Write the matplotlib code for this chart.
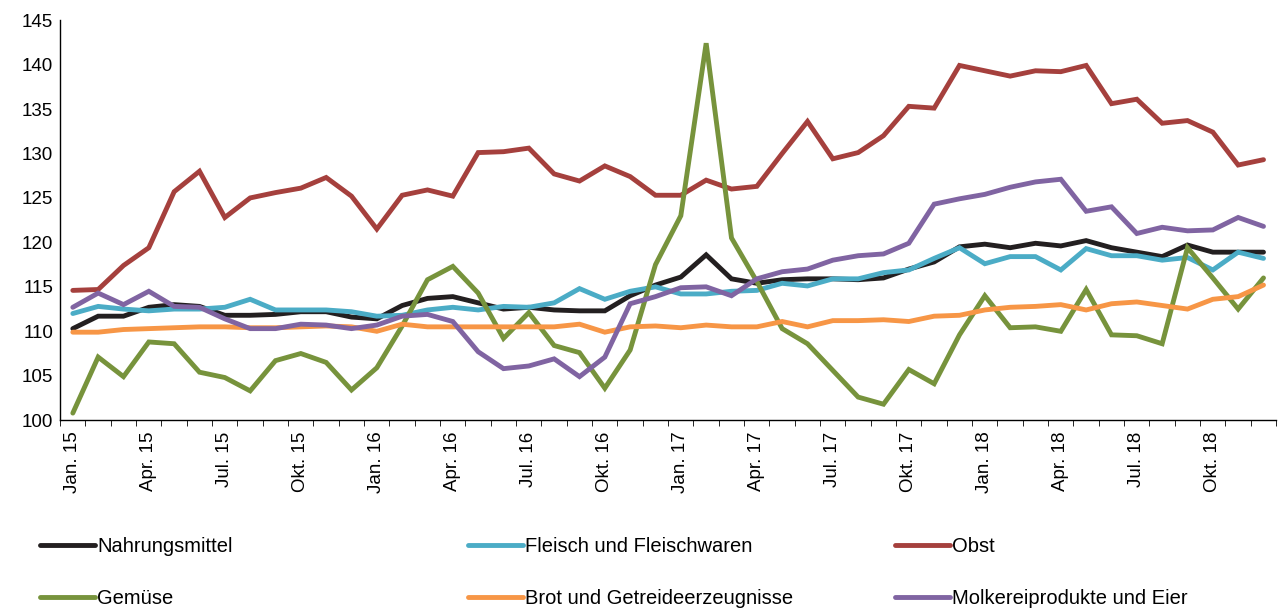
import numpy as np
import matplotlib
matplotlib.use("Agg")
import matplotlib.pyplot as plt

plt.rcParams['font.family'] = ['Liberation Sans', 'DejaVu Sans']

# Monate Jan. 15 bis Dez. 18
monate = [f"{m} {j}" for j in ["15", "16", "17", "18"]
          for m in ["Jan.", "Feb.", "Mär.", "Apr.", "Mai", "Jun.", "Jul.", "Aug.", "Sep.", "Okt.", "Nov.", "Dez."]]
tick_labels = [m if m.split()[0] in ("Jan.", "Apr.", "Jul.", "Okt.") else "" for m in monate]

nahrungsmittel = [110.3, 111.7, 111.7, 112.7, 113.0, 112.8, 111.8, 111.8, 111.9, 112.2, 112.2, 111.6,
                  111.4, 112.9, 113.7, 113.9, 113.2, 112.5, 112.7, 112.4, 112.3, 112.3, 114.0, 115.2,
                  116.1, 118.6, 115.9, 115.4, 115.8, 115.9, 115.9, 115.8, 116.0, 117.0, 117.8, 119.5,
                  119.8, 119.4, 119.9, 119.6, 120.2, 119.4, 118.9, 118.4, 119.7, 118.9, 118.9, 118.9]
fleisch = [112.0, 112.8, 112.5, 112.3, 112.5, 112.5, 112.7, 113.6, 112.4, 112.4, 112.4, 112.2,
           111.7, 111.8, 112.4, 112.7, 112.4, 112.8, 112.7, 113.2, 114.8, 113.6, 114.5, 115.0,
           114.2, 114.2, 114.5, 114.6, 115.4, 115.1, 115.9, 115.9, 116.6, 116.9, 118.2, 119.4,
           117.6, 118.4, 118.4, 116.9, 119.3, 118.5, 118.5, 118.0, 118.3, 116.9, 118.9, 118.2]
obst = [114.6, 114.7, 117.4, 119.4, 125.7, 128.0, 122.8, 125.0, 125.6, 126.1, 127.3, 125.2,
        121.5, 125.3, 125.9, 125.2, 130.1, 130.2, 130.6, 127.7, 126.9, 128.6, 127.4, 125.3,
        125.3, 127.0, 126.0, 126.3, 130.0, 133.6, 129.4, 130.1, 132.0, 135.3, 135.1, 139.9,
        139.3, 138.7, 139.3, 139.2, 139.9, 135.6, 136.1, 133.4, 133.7, 132.4, 128.7, 129.3]
gemuese = [100.8, 107.1, 104.9, 108.8, 108.6, 105.4, 104.8, 103.3, 106.7, 107.5, 106.5, 103.4,
           105.9, 110.6, 115.8, 117.3, 114.3, 109.2, 112.1, 108.4, 107.6, 103.6, 107.9, 117.5,
           123.0, 142.4, 120.5, 115.6, 110.3, 108.6, 105.6, 102.6, 101.8, 105.7, 104.1, 109.6,
           114.0, 110.4, 110.5, 110.0, 114.7, 109.6, 109.5, 108.6, 119.4, 116.0, 112.5, 116.0]
brot = [109.9, 109.9, 110.2, 110.3, 110.4, 110.5, 110.5, 110.4, 110.4, 110.5, 110.6, 110.5,
        110.0, 110.8, 110.5, 110.5, 110.5, 110.5, 110.5, 110.5, 110.8, 109.9, 110.5, 110.6,
        110.4, 110.7, 110.5, 110.5, 111.1, 110.5, 111.2, 111.2, 111.3, 111.1, 111.7, 111.8,
        112.4, 112.7, 112.8, 113.0, 112.4, 113.1, 113.3, 112.9, 112.5, 113.6, 113.9, 115.2]
molkerei = [112.7, 114.3, 113.0, 114.5, 112.8, 112.7, 111.4, 110.3, 110.3, 110.8, 110.7, 110.3,
            110.7, 111.7, 111.9, 111.1, 107.7, 105.8, 106.1, 106.9, 104.9, 107.1, 113.1, 113.9,
            114.9, 115.0, 114.0, 115.9, 116.7, 117.0, 118.0, 118.5, 118.7, 119.9, 124.3, 124.9,
            125.4, 126.2, 126.8, 127.1, 123.5, 124.0, 121.0, 121.7, 121.3, 121.4, 122.8, 121.8]

series = [
    ("Nahrungsmittel", nahrungsmittel, "#231f20"),
    ("Fleisch und Fleischwaren", fleisch, "#4bacc6"),
    ("Obst", obst, "#a5403d"),
    ("Gemüse", gemuese, "#77933c"),
    ("Brot und Getreideerzeugnisse", brot, "#f79646"),
    ("Molkereiprodukte und Eier", molkerei, "#8064a2"),
]

fig = plt.figure(figsize=(12.8, 6.09), dpi=100)
ax = fig.add_axes([0.047, 0.31, 0.95, 0.657])

x = np.arange(len(monate))
lines = []
for name, vals, col in series:
    ln, = ax.plot(x, vals, color=col, lw=3.5, label=name, solid_capstyle="round", solid_joinstyle="miter")
    lines.append(ln)

ax.set_ylim(100, 145)
ax.set_yticks(np.arange(100, 146, 5))
ax.set_xlim(-0.5, len(monate) - 0.5)
ax.set_xticks(x)
ax.set_xticklabels(tick_labels, rotation=90, fontsize=13.5)
ax.tick_params(axis="x", length=0, pad=8)
ax.set_xticks(np.arange(-0.5, len(monate), 1), minor=True)
ax.tick_params(axis="x", which="minor", length=4, direction="out")
ax.tick_params(axis="y", labelsize=13.5, length=0, pad=5)

for s in ["top", "right"]:
    ax.spines[s].set_visible(False)
ax.spines["left"].set_linewidth(1)
ax.spines["bottom"].set_linewidth(1)

# Legende in drei Spalten
col_x = [40 / 1280, 468 / 1280, 895 / 1280]
for k in range(3):
    fig.legend(handles=[lines[k], lines[k + 3]], labels=[series[k][0], series[k + 3][0]],
               loc="upper left", bbox_to_anchor=(col_x[k], 1 - 537 / 609),
               frameon=False, borderpad=0, borderaxespad=0, fontsize=14.5,
               handlelength=2.75, handletextpad=0.1, labelspacing=1.63)

fig.savefig("out.png", dpi=100)
